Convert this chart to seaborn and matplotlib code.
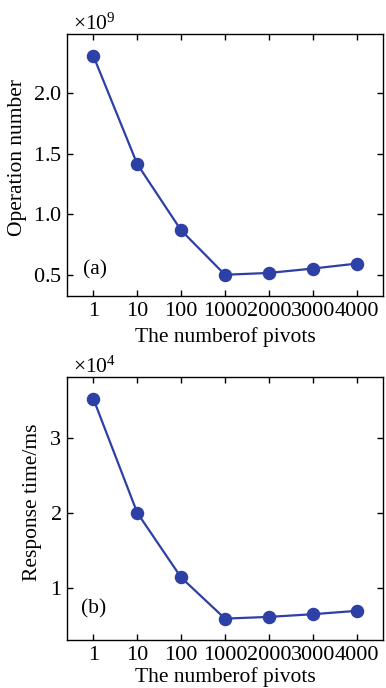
import numpy as np
import pandas as pd
import matplotlib
matplotlib.use("Agg")
import matplotlib.pyplot as plt
import seaborn as sns
from matplotlib.ticker import ScalarFormatter

pivots = ["1", "10", "100", "1000", "2000", "3000", "4000"]
operation_number = [2.306e9, 1.415e9, 0.869e9, 0.503e9, 0.518e9, 0.554e9, 0.595e9]
response_time = [3.534e4, 2.004e4, 1.135e4, 0.583e4, 0.606e4, 0.642e4, 0.687e4]

sns.set_theme(style="ticks")
plt.rcParams["font.family"] = ["Liberation Serif", "DejaVu Serif"]
plt.rcParams["mathtext.fontset"] = "custom"
plt.rcParams["mathtext.rm"] = "Liberation Serif"
plt.rcParams["mathtext.it"] = "Liberation Serif:italic"
plt.rcParams["axes.unicode_minus"] = False
plt.rcParams["text.color"] = "black"
plt.rcParams["axes.labelcolor"] = "black"
plt.rcParams["xtick.color"] = "black"
plt.rcParams["ytick.color"] = "black"

color = "#2c40a6"
fs = 15.5
tfs = 16

fig = plt.figure(figsize=(3.86, 6.88), dpi=100)
W, H = 386, 688
ax1 = fig.add_axes([67 / W, 1 - 296 / H, 316 / W, 262 / H])
ax2 = fig.add_axes([67 / W, 1 - 640 / H, 316 / W, 263 / H])

df1 = pd.DataFrame({"pivots": pivots, "value": operation_number})
df2 = pd.DataFrame({"pivots": pivots, "value": response_time})

for ax, df in [(ax1, df1), (ax2, df2)]:
    sns.pointplot(data=df, x="pivots", y="value", order=pivots, color=color,
                  markers="o", markersize=8.5, linewidth=1.6, ax=ax, errorbar=None)
    ax.set_xlim(-0.6, 6.6)
    for s in ax.spines.values():
        s.set_visible(True)
        s.set_linewidth(1.0)
        s.set_color("black")
    ax.tick_params(axis="both", direction="in", top=True, right=True,
                   length=4.5, width=1.0, labelsize=tfs, pad=4,
                   colors="black", labelcolor="black")
    fmt = ScalarFormatter(useMathText=True)
    fmt.set_powerlimits((0, 0))
    ax.yaxis.set_major_formatter(fmt)
    ax.yaxis.get_offset_text().set_fontsize(fs)
    ax.yaxis.get_offset_text().set_color("black")
    ax.yaxis.get_offset_text().set_x(0.02)

ax1.set_xlabel("The numberof pivots", fontsize=fs, labelpad=5, color="black")
ax2.set_xlabel("The numberof pivots", fontsize=fs, labelpad=2, color="black")

ax1.set_ylim(0.328e9, 2.486e9)
ax1.set_yticks([0.5e9, 1.0e9, 1.5e9, 2.0e9])
ax1.set_ylabel("Operation number", fontsize=fs, color="black")
ax1.yaxis.set_label_coords(-0.127, 0.53)
ax1.text(0.05, 0.1, "(a)", transform=ax1.transAxes, fontsize=fs, va="center", ha="left")

ax2.set_ylim(0.296e4, 3.825e4)
ax2.set_yticks([1e4, 2e4, 3e4])
ax2.set_ylabel("Response time/ms", fontsize=fs, color="black")
ax2.yaxis.set_label_coords(-0.079, 0.523)
ax2.text(0.045, 0.118, "(b)", transform=ax2.transAxes, fontsize=fs, va="center", ha="left")

fig.savefig("out.png", dpi=100)
